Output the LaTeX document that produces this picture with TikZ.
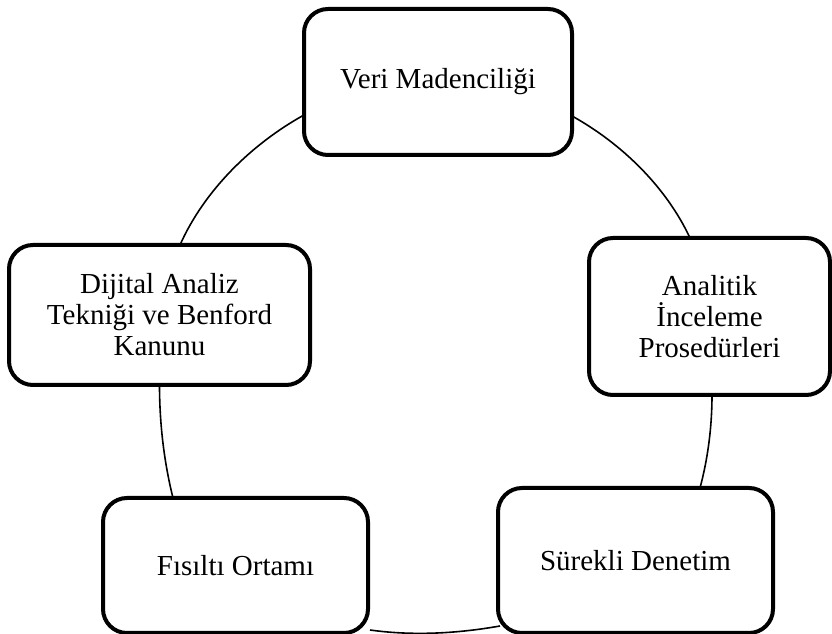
\documentclass[tikz,border=0pt]{standalone}
\usepackage{fontspec}
\setmainfont{Liberation Serif}
\begin{document}
\begin{tikzpicture}[x=1pt,y=1pt,
  stage/.style={draw=black, line width=4pt, rounded corners=24pt, fill=white,
    align=center, inner sep=0pt, outer sep=0pt,
    font=\fontsize{29}{31}\selectfont},
  ring/.style={draw=black, line width=1.6pt, looseness=0.85}]
\useasboundingbox (0,0) rectangle (832,634);

% process boxes
\node[stage, minimum width=268pt, minimum height=146pt] (vm) at (438,552) {Veri Madenciliği};
\node[stage, minimum width=241pt, minimum height=157pt] (ai) at (709.5,317.5) {Analitik\\İnceleme\\Prosedürleri};
\node[stage, minimum width=275pt, minimum height=145pt] (sd) at (635.5,73.5) {Sürekli Denetim};
\node[stage, minimum width=265pt, minimum height=135pt] (fo) at (235.5,68.5) {Fısıltı Ortamı};
\node[stage, minimum width=301pt, minimum height=140pt] (da) at (159.5,319) {Dijital Analiz\\Tekniği ve Benford\\Kanunu};

% cycle arcs between neighbouring boxes
\draw[ring] ([yshift=-33pt]vm.west) to[out=209,in=66] ([xshift=20.5pt]da.north);
\draw[ring] ([yshift=-34pt]vm.east) to[out=-29,in=115] ([xshift=-19.5pt]ai.north);
\draw[ring] ([xshift=2.5pt]ai.south) to[out=-90,in=75] ([xshift=64.5pt]sd.north);
\draw[ring] ([shift={(2pt,7pt)}]sd.south west) to[out=190,in=-8] ([shift={(2pt,3pt)}]fo.south east);
\draw[ring] ([xshift=-62.5pt]fo.north) to[out=104,in=-90] (da.south);
\end{tikzpicture}
\end{document}
